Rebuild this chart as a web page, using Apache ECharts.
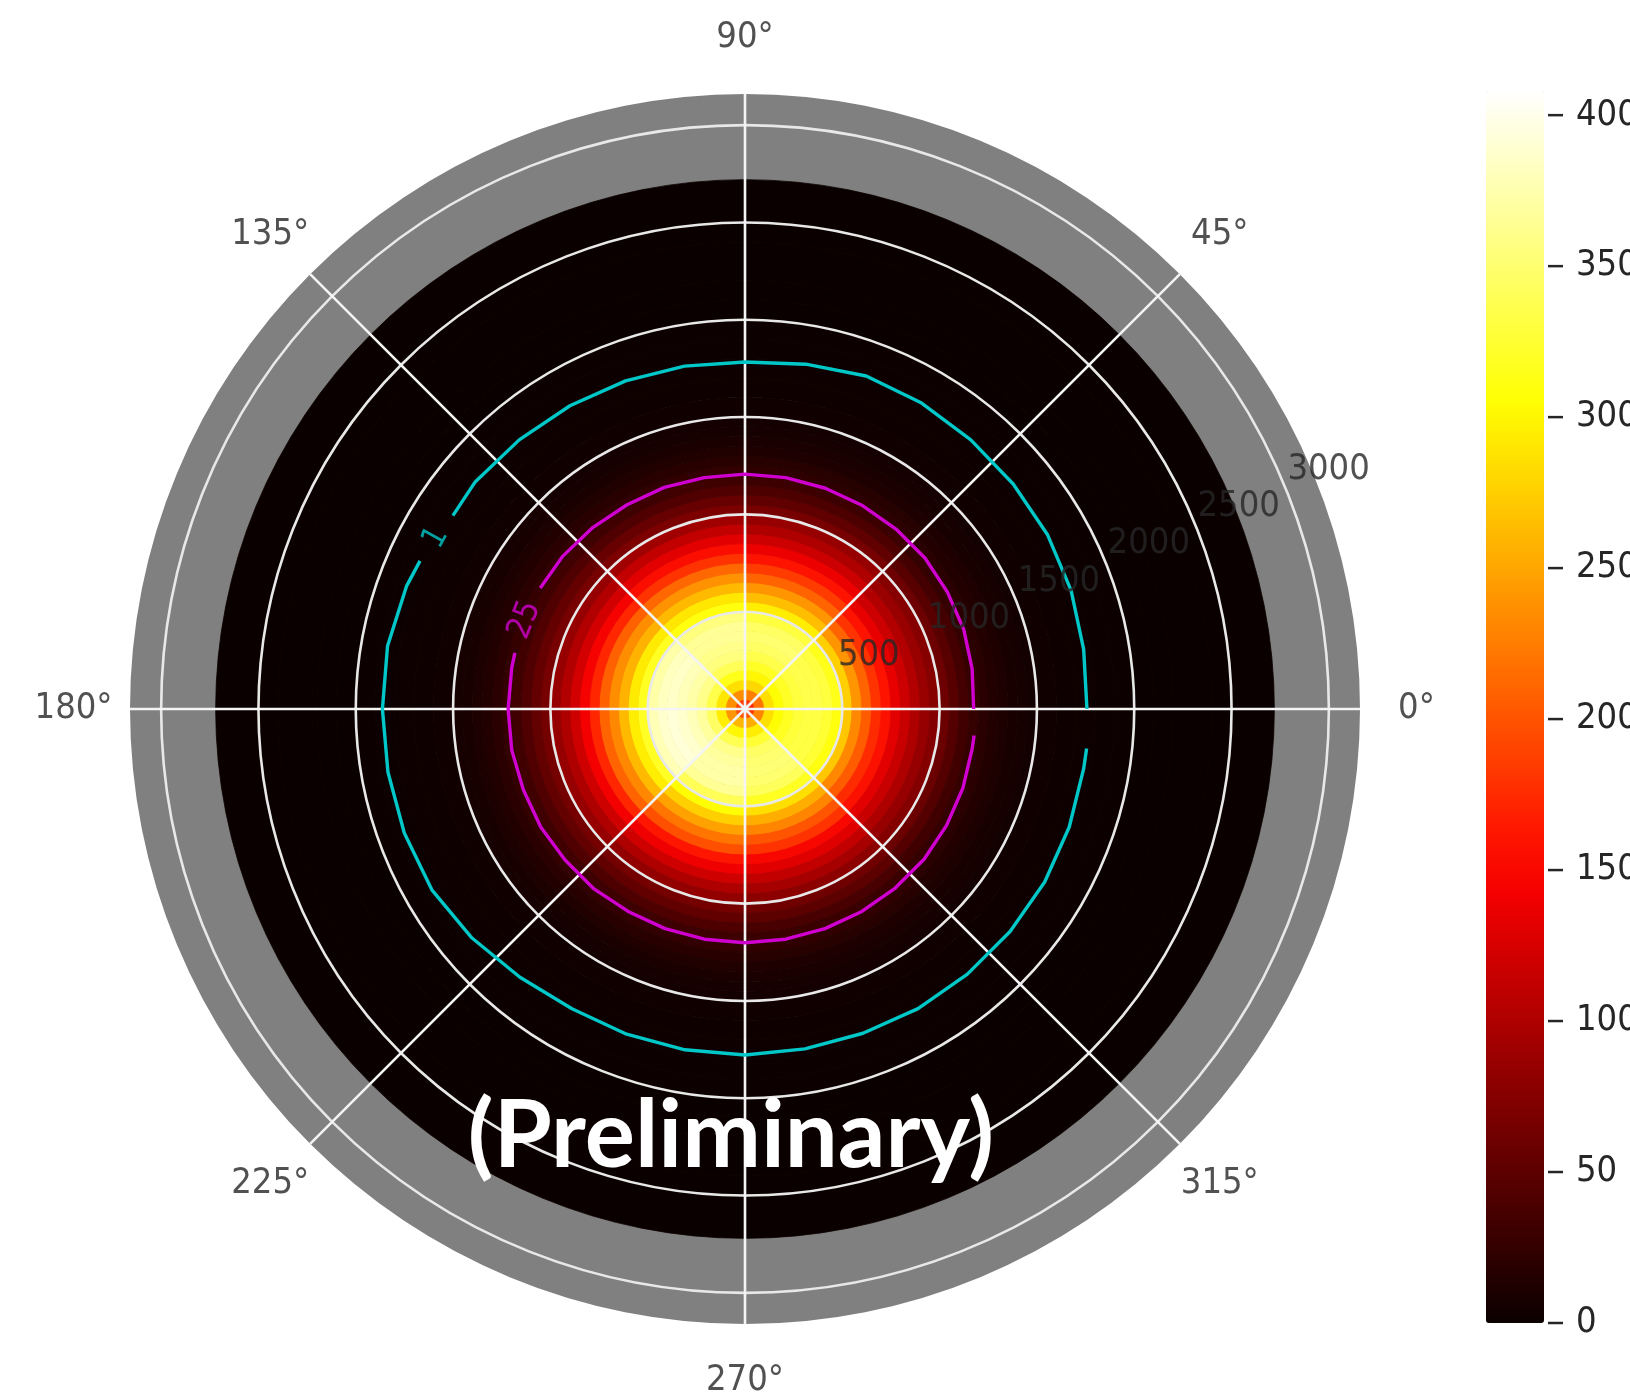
<!DOCTYPE html>
<html>
<head>
<meta charset="utf-8">
<script src="https://cdn.jsdelivr.net/npm/echarts@6/dist/echarts.min.js"></script>
<style>
  html, body { margin: 0; padding: 0; background: #ffffff; }
  #chart { width: 1630px; height: 1395px; }
</style>
</head>
<body>
<div id="chart"></div>
<script>
// ---- data -------------------------------------------------------------
// radial bin edges, in radius-axis units
const RADIAL_EDGES = [
  0, 50, 100, 150, 200, 250, 300, 350, 400, 450, 500, 550, 600, 650, 700, 750,
  800, 850, 900, 950, 1000, 1050, 1100, 1150, 1200, 1250, 1300, 1350, 1400, 1450, 1500,
  1600, 1700, 1800, 1900, 2000, 2100, 2200, 2400, 2720
];
// angular sector edges, degrees counter-clockwise from east
const SECTOR_EDGES = [0, 45, 90, 135, 180, 225, 270, 315, 360];

// intensity per 50-unit radial bin (0 .. 1500) in each sector
const SECTOR_0_45 = [175, 220, 285, 305, 320, 330, 335, 335, 330, 315, 275, 240, 210, 180, 160, 135, 118, 102, 87, 76, 60, 47, 35, 26, 20, 15, 11.5, 8.5, 6.5, 5];
const SECTOR_45_90 = [180, 225, 280, 300, 320, 335, 345, 350, 345, 330, 295, 265, 240, 210, 185, 160, 138, 118, 100, 85, 66, 52, 40, 30, 22, 17, 12.5, 9.5, 7, 5.5];
const SECTOR_90_135 = [185, 235, 285, 315, 340, 355, 360, 365, 365, 355, 310, 290, 262, 238, 212, 180, 155, 132, 112, 92, 70, 56, 42, 32, 24, 18, 13.5, 10, 7.5, 5.5];
const SECTOR_135_180 = [190, 235, 290, 335, 360, 372, 380, 385, 382, 372, 318, 292, 258, 235, 208, 172, 145, 122, 102, 86, 66, 55, 42, 33, 25, 20, 15, 11, 8.5, 6.5];
const SECTOR_180_225 = [195, 240, 295, 345, 368, 380, 388, 392, 388, 378, 320, 295, 262, 232, 210, 172, 142, 120, 100, 85, 65, 54, 42, 33, 25, 20, 15, 11, 8.5, 6.5];
const SECTOR_225_270 = [200, 260, 300, 338, 360, 368, 372, 372, 365, 340, 305, 275, 248, 220, 198, 162, 140, 120, 100, 83, 65, 53, 41, 31, 24, 18, 13.5, 10, 7.5, 5.5];
const SECTOR_270_315 = [195, 255, 295, 325, 345, 350, 352, 350, 342, 318, 285, 255, 230, 200, 180, 148, 130, 112, 95, 80, 62, 50, 38, 29, 23, 17, 12.5, 9.5, 7, 5.5];
const SECTOR_315_360 = [180, 230, 285, 305, 318, 328, 332, 332, 325, 310, 270, 232, 205, 175, 158, 132, 116, 100, 85, 74, 58, 45, 33, 25, 19, 15, 11, 8.5, 6.5, 5];
// faint outer tail shared by all sectors (bins 1500 .. 2720)
const OUTER_TAIL = [3.8, 2.6, 1.6, 0.9, 0.5, 0.3, 0.2, 0.1, 0.05];

// contour level 1: [angle, radius]; null marks the gap left for the inline label
const CONTOUR_LEVEL_1 = [
  [0, 1757], [10, 1767], [20, 1783], [30, 1794], [40, 1799], [50, 1805], [60, 1815], [70, 1821],
  [80, 1799], [90, 1783], [100, 1789], [110, 1794], [120, 1799], [130, 1805], [140, 1812], [146.5, 1800],
  null,
  [155.5, 1835], [160, 1850], [170, 1865], [180, 1863], [190, 1863], [200, 1863], [210, 1858],
  [220, 1831], [230, 1799], [240, 1778], [250, 1778], [260, 1778], [270, 1778], [280, 1773],
  [290, 1773], [300, 1778], [310, 1778], [320, 1778], [330, 1778], [340, 1773], [350, 1767], [353.4, 1767]
];
// contour level 25
const CONTOUR_LEVEL_25 = [
  [0, 1175], [10, 1185], [20, 1196], [30, 1201], [40, 1207], [50, 1207], [60, 1207], [70, 1207],
  [80, 1207], [90, 1207], [100, 1207], [110, 1212], [120, 1212], [130, 1217], [140, 1222], [149.4, 1222],
  null,
  [166.3, 1217], [170, 1217], [180, 1217], [190, 1217], [200, 1212], [210, 1212], [220, 1207],
  [230, 1207], [240, 1201], [250, 1201], [260, 1201], [270, 1201], [280, 1201], [290, 1201],
  [300, 1201], [310, 1201], [320, 1201], [330, 1196], [340, 1191], [350, 1185], [353.4, 1185]
];
// inline contour labels: [level, angle, radius]
const CONTOUR_LABELS = [[1, 151, 1815], [25, 158, 1219]];

// tick values
const RADIAL_TICKS = [500, 1000, 1500, 2000, 2500, 3000];
const ANGLE_TICKS = [0, 45, 90, 135, 180, 225, 270, 315];
const COLORBAR_TICKS = [0, 50, 100, 150, 200, 250, 300, 350, 400];

// ---- layout / style ---------------------------------------------------
const CENTER = [745, 709];
const RADIUS_PX = 615;
const R_MAX = 3160;
const ANGLE_LABEL_R = 3450;
const RLABEL_ANGLE = 22.5;
const C_MIN = 0, C_MAX = 408;
const FONT = '"DejaVu Sans Condensed", "DejaVu Sans", sans-serif';
const TEXT_COLOR = '#262626';
const RING_COLOR = '#e8e8e8';
// "hot" colour ramp sampled at even steps
const HOT = ['#0b0000', '#2c0000', '#4e0000', '#6f0000', '#900000', '#b20000', '#d30000',
  '#f50000', '#ff1700', '#ff3900', '#ff5a00', '#ff7c00', '#ff9d00', '#ffbf00', '#ffe000',
  '#ffff04', '#ffff36', '#ffff68', '#ffff9b', '#ffffcd', '#ffffff'];

// colour bar geometry (bar spans C_MIN..C_MAX, tick axis spans 0..400)
const BAR_LEFT = 1486, BAR_TOP = 91, BAR_W = 58, BAR_H = 1232;
const TICK_MAX = COLORBAR_TICKS[COLORBAR_TICKS.length - 1];
const TICK_TOP = BAR_TOP + BAR_H * (1 - TICK_MAX / C_MAX);

const SECTOR_PROFILES = [SECTOR_0_45, SECTOR_45_90, SECTOR_90_135, SECTOR_135_180,
  SECTOR_180_225, SECTOR_225_270, SECTOR_270_315, SECTOR_315_360];

const heatCells = [];
SECTOR_PROFILES.forEach((profile, s) => {
  const vals = profile.concat(OUTER_TAIL);
  vals.forEach((v, i) => {
    heatCells.push([RADIAL_EDGES[i], RADIAL_EDGES[i + 1], SECTOR_EDGES[s], SECTOR_EDGES[s + 1], v]);
  });
});

const toPolarLine = pts => pts.map(p => (p ? [p[1], p[0]] : ['-', '-']));

const chart = echarts.init(document.getElementById('chart'), null, { renderer: 'canvas' });

chart.setOption({
  animation: false,
  backgroundColor: '#ffffff',
  textStyle: { fontFamily: FONT },
  polar: [
    { center: CENTER, radius: RADIUS_PX },
    { center: CENTER, radius: RADIUS_PX }
  ],
  radiusAxis: [
    {
      polarIndex: 0, type: 'value', min: 0, max: R_MAX,
      axisLine: { show: false }, axisTick: { show: false }, axisLabel: { show: false },
      splitLine: { show: false }
    },
    {
      polarIndex: 1, type: 'value', min: 0, max: R_MAX, interval: 500, z: 3,
      axisLine: { show: false }, axisTick: { show: false }, axisLabel: { show: false },
      splitLine: {
        show: true,
        lineStyle: {
          width: 2.6,
          color: [RING_COLOR, RING_COLOR, RING_COLOR, RING_COLOR, RING_COLOR, RING_COLOR, RING_COLOR, 'rgba(255,255,255,0)']
        }
      }
    }
  ],
  angleAxis: [
    {
      polarIndex: 0, type: 'value', min: 0, max: 360, interval: 45, startAngle: 0, clockwise: false,
      axisLine: { show: false }, axisTick: { show: false }, axisLabel: { show: false },
      splitLine: { show: false },
      splitArea: { show: true, areaStyle: { color: ['#808080'] } }
    },
    {
      polarIndex: 1, type: 'value', min: 0, max: 360, interval: 45, startAngle: 0, clockwise: false, z: 3,
      axisLine: { show: false }, axisTick: { show: false }, axisLabel: { show: false },
      splitLine: { show: true, lineStyle: { color: '#f4f4f4', width: 2.6 } }
    }
  ],
  grid: {
    left: BAR_LEFT, top: TICK_TOP, width: BAR_W, height: BAR_TOP + BAR_H - TICK_TOP,
    containLabel: false, outerBoundsMode: 'none'
  },
  xAxis: {
    type: 'value', show: false, min: 0, max: 1,
    axisLine: { show: false }, axisTick: { show: false }, axisLabel: { show: false }, splitLine: { show: false }
  },
  yAxis: {
    type: 'value', position: 'right', min: 0, max: TICK_MAX, interval: 50,
    axisLine: { show: false },
    splitLine: { show: false },
    axisTick: { show: false },
    axisLabel: { show: true, margin: 32, fontSize: 36, color: TEXT_COLOR, fontFamily: FONT }
  },
  visualMap: {
    type: 'continuous', seriesIndex: 0, dimension: 4,
    min: C_MIN, max: C_MAX, calculable: false, hoverLink: false,
    left: BAR_LEFT, top: BAR_TOP, itemWidth: BAR_W, itemHeight: BAR_H, padding: 0,
    text: null, showLabel: false,
    inRange: { color: HOT }
  },
  series: [
    {
      name: 'intensity',
      type: 'custom', coordinateSystem: 'polar', polarIndex: 0, silent: true, z: 2,
      encode: { radius: [0, 1], angle: [2, 3] },
      data: heatCells,
      renderItem: function (params, api) {
        const c = api.coord([0, 0]);
        const pin = api.coord([api.value(0), api.value(2)]);
        const ps = api.coord([api.value(1), api.value(2)]);
        const pe = api.coord([api.value(1), api.value(3)]);
        const rIn = Math.hypot(pin[0] - c[0], pin[1] - c[1]);
        const rOut = Math.hypot(ps[0] - c[0], ps[1] - c[1]);
        const sa = Math.atan2(ps[1] - c[1], ps[0] - c[0]);
        let ea = Math.atan2(pe[1] - c[1], pe[0] - c[0]);
        if (ea > sa) ea -= 2 * Math.PI;
        const color = api.visual('color');
        return {
          type: 'sector',
          shape: { cx: c[0], cy: c[1], r0: rIn, r: rOut, startAngle: ea, endAngle: sa, clockwise: true },
          style: { fill: color, stroke: color, lineWidth: 0.8 }
        };
      }
    },
    {
      name: 'level 1', type: 'line', coordinateSystem: 'polar', polarIndex: 0, z: 4, silent: true,
      data: toPolarLine(CONTOUR_LEVEL_1), showSymbol: false, connectNulls: false,
      lineStyle: { color: '#00c8c8', width: 3.4 }
    },
    {
      name: 'level 25', type: 'line', coordinateSystem: 'polar', polarIndex: 0, z: 4, silent: true,
      data: toPolarLine(CONTOUR_LEVEL_25), showSymbol: false, connectNulls: false,
      lineStyle: { color: '#d000d0', width: 3.4 }
    },
    {
      name: 'contour labels', type: 'scatter', coordinateSystem: 'polar', polarIndex: 0, z: 5,
      silent: true, clip: false, symbolSize: 0,
      data: CONTOUR_LABELS.map((d, i) => ({
        value: [d[2], d[1]],
        label: {
          show: true, formatter: String(d[0]), position: [0, 0], align: 'center', verticalAlign: 'middle',
          rotate: d[1] - 90, fontSize: 33, fontFamily: FONT,
          color: i === 0 ? '#00c8c8' : '#d000d0'
        }
      }))
    },
    {
      name: 'radial ticks', type: 'scatter', coordinateSystem: 'polar', polarIndex: 0, z: 5,
      silent: true, clip: false, symbolSize: 0,
      data: RADIAL_TICKS.map(r => [r, RLABEL_ANGLE]),
      label: {
        show: true, position: [3, 2], align: 'left', verticalAlign: 'bottom',
        formatter: p => String(p.value[0]), fontSize: 36, color: '#262626', fontFamily: FONT
      }
    },
    {
      name: 'angle ticks', type: 'scatter', coordinateSystem: 'polar', polarIndex: 0, z: 5,
      silent: true, clip: false, symbolSize: 0,
      data: ANGLE_TICKS.map(a => [ANGLE_LABEL_R, a]),
      label: {
        show: true, position: [0, 0], align: 'center', verticalAlign: 'middle',
        formatter: p => p.value[1] + '\u00b0', fontSize: 36, color: TEXT_COLOR, fontFamily: FONT
      }
    },
    {
      // colour bar tick marks, placed through the colour-bar axis
      name: 'colorbar ticks', type: 'custom', coordinateSystem: 'cartesian2d', silent: true, z: 5,
      data: COLORBAR_TICKS.map(v => [1, v]),
      renderItem: function (params, api) {
        const p = api.coord([api.value(0), api.value(1)]);
        return {
          type: 'line',
          shape: { x1: p[0] + 4, y1: p[1], x2: p[0] + 19, y2: p[1] },
          style: { stroke: TEXT_COLOR, lineWidth: 2.5 }
        };
      }
    }
  ],
  graphic: [
    {
      type: 'text', z: 100, silent: true,
      style: {
        text: '(Preliminary)', x: 731, y: 1137, align: 'center', verticalAlign: 'middle',
        fill: '#ffffff', font: 'bold 94px Lato, "Open Sans", sans-serif'
      }
    }
  ]
});
</script>
</body>
</html>
